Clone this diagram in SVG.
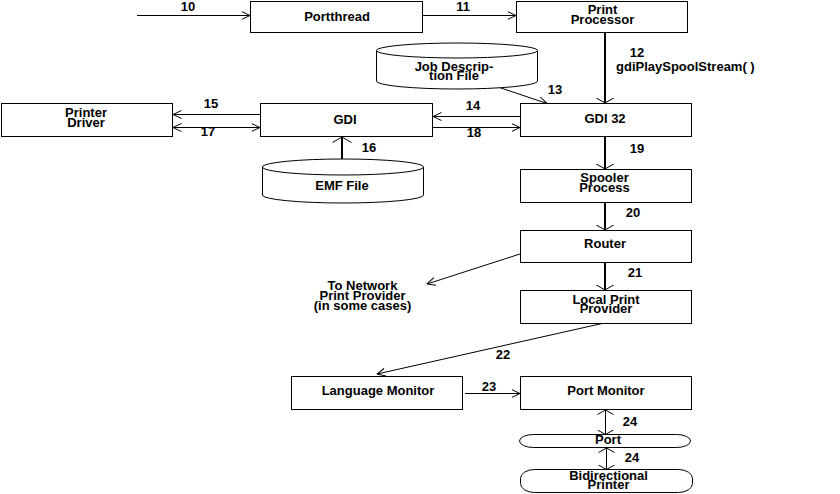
<svg xmlns="http://www.w3.org/2000/svg" width="840" height="494" viewBox="0 0 840 494">
<style>
.b{fill:#fff;stroke:#000;stroke-width:1}
.t{font-family:"Liberation Sans",Arial,sans-serif;font-weight:bold;font-size:13px;text-anchor:middle;fill:#000}
.s{text-anchor:start}
.c{fill:none;stroke:#000;stroke-width:1}
.th{stroke-width:2}
.h{marker-end:url(#ah)}
.v{marker-end:url(#av)}
.d{marker-start:url(#a24);marker-end:url(#a24)}
.dd{marker-start:url(#ah2);marker-end:url(#ah2)}
</style>
<defs>
<marker id="ah" viewBox="0 0 9 10" refX="8.5" refY="5" markerWidth="9" markerHeight="10" markerUnits="userSpaceOnUse" orient="auto"><path d="M0,1 L8.5,5 L0,9" fill="none" stroke="#000" stroke-width="1"/></marker>
<marker id="ah2" viewBox="0 0 9 10" refX="8.5" refY="5" markerWidth="9" markerHeight="10" markerUnits="userSpaceOnUse" orient="auto-start-reverse"><path d="M0,1 L8.5,5 L0,9" fill="none" stroke="#000" stroke-width="1"/></marker>
<marker id="av" viewBox="0 -10 6 20" refX="5.5" refY="0" markerWidth="6" markerHeight="20" markerUnits="userSpaceOnUse" orient="auto"><path d="M0,-9.5 L5.5,0 L0,9.5" fill="none" stroke="#000" stroke-width="1"/></marker>
<marker id="a24" viewBox="0 -9 5 18" refX="4.5" refY="0" markerWidth="5" markerHeight="18" markerUnits="userSpaceOnUse" orient="auto-start-reverse"><path d="M0,-8 L4.5,0 L0,8" fill="none" stroke="#000" stroke-width="1"/></marker>
</defs>

<g id="connectors">
<line class="c h" x1="137" y1="15.5" x2="250" y2="15.5"/>
<line class="c h" x1="423" y1="15.5" x2="516" y2="15.5"/>
<line class="c th v" x1="605" y1="33" x2="605" y2="103"/>
<line class="c h" x1="498" y1="87" x2="547" y2="103.5"/>
<line class="c h" x1="520" y1="116.5" x2="433" y2="116.5"/>
<line class="c h" x1="260" y1="114.5" x2="173" y2="114.5"/>
<line class="c th v" x1="342" y1="159" x2="342" y2="137"/>
<line class="c dd" x1="173" y1="127.5" x2="260" y2="127.5"/>
<line class="c h" x1="433" y1="127.5" x2="520" y2="127.5"/>
<line class="c th v" x1="605" y1="137" x2="605" y2="169"/>
<line class="c th v" x1="605" y1="203" x2="605" y2="230"/>
<line class="c th v" x1="605" y1="263" x2="605" y2="290"/>
<line class="c h" x1="520" y1="254" x2="427" y2="284"/>
<line class="c h" x1="602" y1="323.5" x2="377" y2="374"/>
<line class="c h" x1="465" y1="393.5" x2="520" y2="393.5"/>
<line class="c d" x1="605.5" y1="410" x2="605.5" y2="434.5"/>
<line class="c d" x1="606.5" y1="448" x2="606.5" y2="469.5"/>
<text class="t" x="188" y="11">10</text>
<text class="t" x="463" y="10.5">11</text>
<text class="t" x="637" y="57">12</text>
<text class="t s" x="616" y="71">gdiPlaySpoolStream( )</text>
<text class="t" x="555" y="94">13</text>
<text class="t" x="473" y="110">14</text>
<text class="t" x="211" y="108">15</text>
<text class="t" x="369" y="152">16</text>
<text class="t" x="208" y="136">17</text>
<text class="t" x="474" y="137">18</text>
<text class="t" x="637" y="153">19</text>
<text class="t" x="633" y="217">20</text>
<text class="t" x="635" y="277">21</text>
<text class="t" x="503" y="359">22</text>
<text class="t" x="489" y="391">23</text>
<text class="t" x="630" y="426">24</text>
<text class="t" x="632" y="462">24</text>
</g>

<g id="portthread"><rect class="b" x="250.5" y="1.5" width="172" height="31"/><text class="t" x="337" y="20.5">Portthread</text></g>
<g id="print-processor"><rect class="b" x="516.5" y="1.5" width="171" height="31"/><text class="t" x="602.5" y="14">Print</text><text class="t" x="602.5" y="24">Processor</text></g>
<g id="job-description-file">
<path class="b" d="M376.5,50.5 L376.5,81 A80.5,8 0 0 0 537.5,81 L537.5,50.5"/>
<ellipse class="b" cx="457" cy="50.5" rx="80.5" ry="7.5"/>
<text class="t" x="454" y="70.5">Job Descrip-</text><text class="t" x="454" y="80">tion File</text>
</g>
<g id="printer-driver"><rect class="b" x="1.5" y="103.5" width="171" height="33"/><text class="t" x="86" y="117">Printer</text><text class="t" x="86" y="127">Driver</text></g>
<g id="gdi"><rect class="b" x="260.5" y="103.5" width="172" height="33"/><text class="t" x="345" y="123.5">GDI</text></g>
<g id="gdi32"><rect class="b" x="520.5" y="103.5" width="171" height="33"/><text class="t" x="605" y="123">GDI 32</text></g>
<g id="emf-file">
<path class="b" d="M262.5,167 L262.5,195 A80.5,8 0 0 0 423.5,195 L423.5,167"/>
<ellipse class="b" cx="343" cy="167" rx="80.5" ry="8"/>
<text class="t" x="342" y="190">EMF File</text>
</g>
<g id="spooler-process"><rect class="b" x="520.5" y="169.5" width="171" height="33"/><text class="t" x="604.5" y="182">Spooler</text><text class="t" x="604.5" y="192">Process</text></g>
<g id="router"><rect class="b" x="520.5" y="230.5" width="171" height="32"/><text class="t" x="605" y="248">Router</text></g>
<g id="network-note"><text class="t" x="362.5" y="290">To Network</text><text class="t" x="362.5" y="300">Print Provider</text><text class="t" x="362.5" y="309.5">(in some cases)</text></g>
<g id="local-print-provider"><rect class="b" x="520.5" y="290.5" width="171" height="33"/><text class="t" x="606" y="304">Local Print</text><text class="t" x="606" y="313">Provider</text></g>
<g id="language-monitor"><rect class="b" x="291.5" y="376.5" width="171" height="33"/><text class="t" x="378" y="395">Language Monitor</text></g>
<g id="port-monitor"><rect class="b" x="520.5" y="376.5" width="171" height="33"/><text class="t" x="606" y="395">Port Monitor</text></g>
<g id="port"><rect class="b" x="519.5" y="434.5" width="171" height="13" rx="14" ry="6.5"/><text class="t" x="608" y="443.5">Port</text></g>
<g id="bidirectional-printer"><rect class="b" x="520.5" y="469.5" width="172" height="23" rx="14" ry="9"/><text class="t" x="608.5" y="479.5">Bidirectional</text><text class="t" x="608.5" y="489">Printer</text></g>
</svg>
